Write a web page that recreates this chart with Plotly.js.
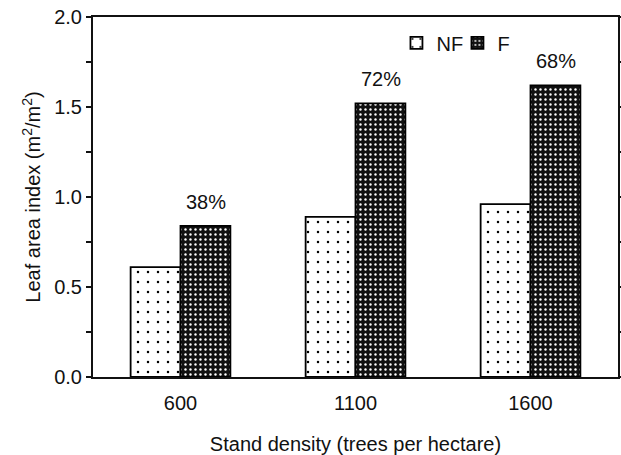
<!DOCTYPE html>
<html>
<head>
<meta charset="utf-8">
<script src="https://cdn.plot.ly/plotly-3.0.1.min.js"></script>
<style>
html,body{margin:0;padding:0;background:#fff;}
#chart{width:621px;height:455px;}
</style>
</head>
<body>
<div id="chart"></div>
<script>
const categories = ['600', '1100', '1600'];
const nfValues = [0.61, 0.89, 0.96];
const fValues = [0.84, 1.52, 1.62];
const increaseLabels = ['38%', '72%', '68%'];
const yTickVals = [0, 0.5, 1.0, 1.5, 2.0];
const yTickText = ['0.0', '0.5', '1.0', '1.5', '2.0'];

const FONT = '"Liberation Sans", Arial, Helvetica, sans-serif';

const traceNF = {
  type: 'bar', name: 'NF', x: categories, y: nfValues,
  marker: {
    color: '#ffffff',
    line: {color: '#000', width: 1.8},
    pattern: {shape: '.', fgcolor: '#000', bgcolor: '#ffffff', size: 10, solidity: 0.05, fillmode: 'replace'}
  },
  hoverinfo: 'skip'
};
const traceF = {
  type: 'bar', name: 'F', x: categories, y: fValues,
  marker: {
    color: '#111',
    line: {color: '#000', width: 1.8},
    pattern: {shape: '.', fgcolor: '#ffffff', bgcolor: '#111', size: 5, solidity: 0.18, fillmode: 'replace'}
  },
  hoverinfo: 'skip'
};

// category axis: annotation x uses the category index
const annotations = categories.map((c, i) => ({
  x: i, y: fValues[i], xref: 'x', yref: 'y',
  text: increaseLabels[i], showarrow: false,
  xshift: 25, yshift: 11, yanchor: 'bottom', xanchor: 'center',
  font: {family: FONT, size: 20, color: '#111'}
}));

const layout = {
  width: 621, height: 455,
  margin: {l: 93, r: 3, t: 17, b: 78},
  paper_bgcolor: '#fff', plot_bgcolor: '#fff',
  font: {family: FONT, size: 20, color: '#111'},
  barmode: 'group', bargap: 0.43, bargroupgap: 0,
  showlegend: true,
  legend: {
    orientation: 'h', x: 0.578, y: 0.928, xanchor: 'left', yanchor: 'middle',
    font: {family: FONT, size: 20, color: '#111'},
    bgcolor: 'rgba(0,0,0,0)', itemwidth: 30, entrywidth: 16, entrywidthmode: 'pixels',
    tracegroupgap: 0
  },
  xaxis: {
    type: 'category', range: [-0.5, 2.5],
    showline: true, linecolor: '#111', linewidth: 2, mirror: true,
    ticks: '', ticklabelstandoff: 7, showgrid: false, zeroline: false,
    tickfont: {family: FONT, size: 20, color: '#111'},
    title: {text: 'Stand density (trees per hectare)', font: {family: FONT, size: 20, color: '#111'}, standoff: 25}
  },
  yaxis: {
    range: [0, 2.0], tickvals: yTickVals, ticktext: yTickText,
    showline: true, linecolor: '#111', linewidth: 2, mirror: 'ticks',
    ticks: 'outside', ticklen: 5, tickwidth: 1.2, tickcolor: '#111',
    minor: {dtick: 0.25, ticks: 'outside', ticklen: 5, tickwidth: 1.2, tickcolor: '#111', showgrid: false},
    showgrid: false, zeroline: false,
    tickfont: {family: FONT, size: 20, color: '#111'},
    title: {text: 'Leaf area index (m<sup>2</sup>/m<sup>2</sup>)', font: {family: FONT, size: 20, color: '#111'}, standoff: 8}
  },
  annotations: annotations
};

Plotly.newPlot('chart', [traceNF, traceF], layout, {displayModeBar: false, staticPlot: true});
</script>
</body>
</html>
